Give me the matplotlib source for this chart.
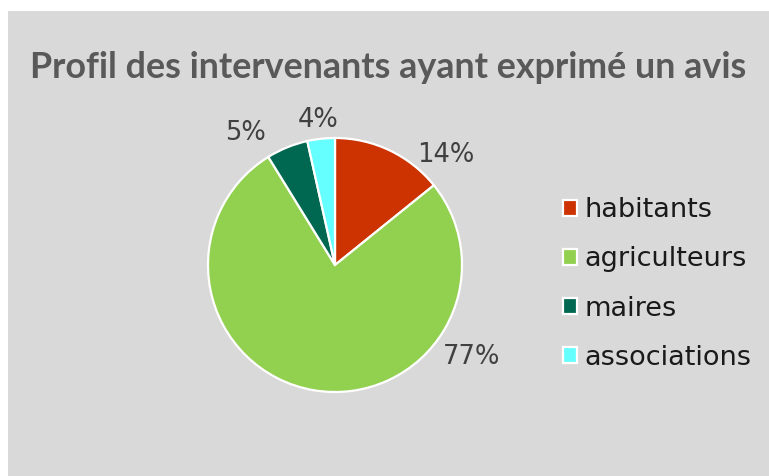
import matplotlib
matplotlib.use("Agg")
import matplotlib.pyplot as plt
from matplotlib.patches import Rectangle

# données
categories = ["habitants", "agriculteurs", "maires", "associations"]
values = [14.2, 77.0, 5.3, 3.5]
colors = ["#cc3300", "#92d050", "#006850", "#66ffff"]

# position des étiquettes (x, y en rayons)
label_pos = [(0.874, 0.866), (1.079, -0.724), (-0.709, 1.039), (-0.134, 1.142)]

W, H = 769, 476
fig = plt.figure(figsize=(W / 100, H / 100), dpi=100, facecolor="white")
# fond gris
fig.patches.append(Rectangle((8 / W, 0), 1, 1 - 11 / H, transform=fig.transFigure,
                             facecolor="#d9d9d9", edgecolor="none", zorder=-5))

r = 127
pad = 1.04
ax = fig.add_axes([(335 - r * pad) / W, (H - 265 - r * pad) / H,
                   2 * r * pad / W, 2 * r * pad / H])
ax.set_zorder(2)
wedges, _ = ax.pie(values, colors=colors, startangle=90, counterclock=False,
                   wedgeprops=dict(edgecolor="white", linewidth=1.6))
ax.set_xlim(-pad, pad)
ax.set_ylim(-pad, pad)
ax.set_aspect("equal")
ax.axis("off")

total = sum(values)
for v, (x, y) in zip(values, label_pos):
    ax.text(x, y, f"{round(v / total * 100):.0f}%", ha="center", va="center",
            fontsize=18.5, color="#404040", family="DejaVu Sans")

fig.text(388 / W, 1 - 68 / H, "Profil des intervenants ayant exprimé un avis",
         ha="center", va="center", fontsize=25.8, fontweight="bold",
         color="#595959", family="Lato")

leg = fig.legend(wedges, categories, loc="center left",
                 bbox_to_anchor=(549 / W, 1 - 284 / H), frameon=False,
                 prop=dict(family="DejaVu Sans", size=19.5),
                 handlelength=0.55, handleheight=0.55, handletextpad=0.25,
                 labelspacing=0.85, borderpad=0)
for t in leg.get_texts():
    t.set_color("#1a1a1a")

fig.savefig("out.png", dpi=100, facecolor=fig.get_facecolor())
